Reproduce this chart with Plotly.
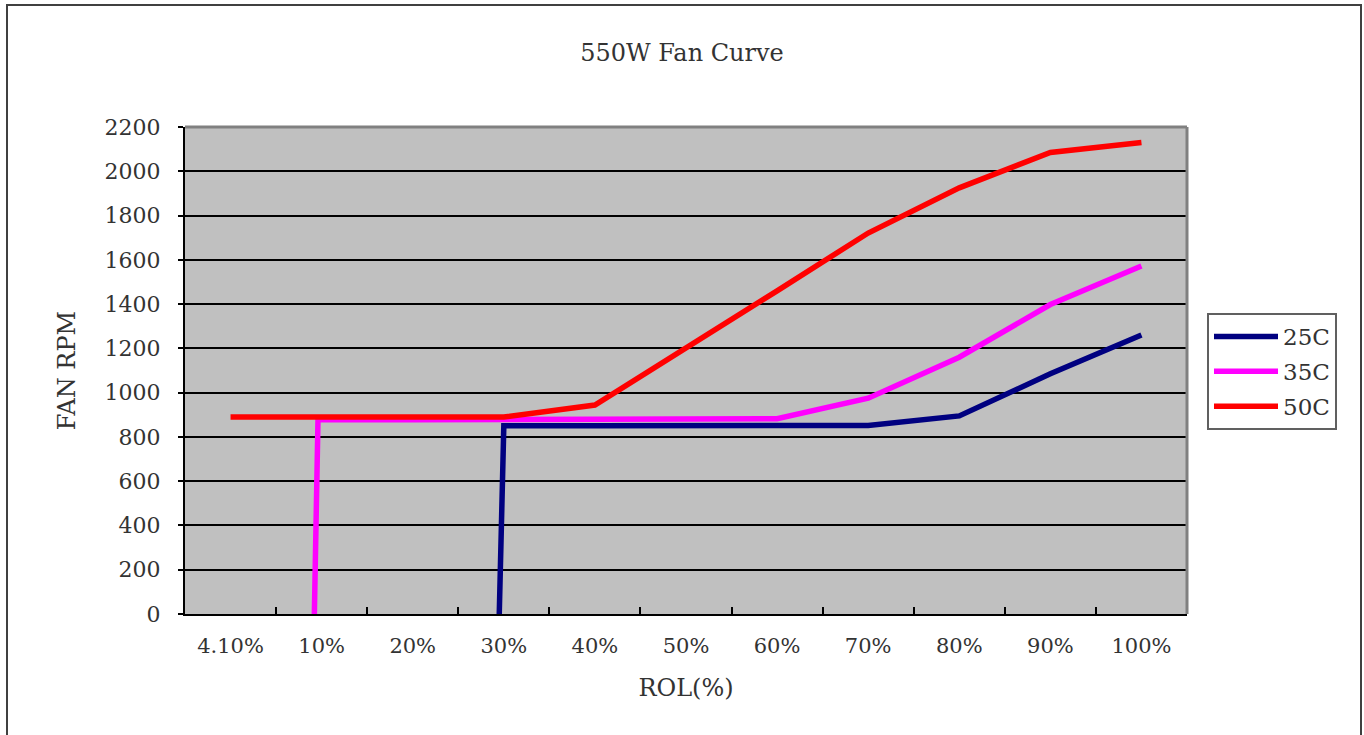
import plotly.graph_objects as go

# ---- data ----
load_labels = ["4.10%", "10%", "20%", "30%", "40%", "50%", "60%", "70%", "80%", "90%", "100%"]
label_pos = list(range(len(load_labels)))

load_pos_25c = [2.95, 3, 4, 5, 6, 7, 8, 9, 10]
rpm_25c = [0, 850, 850, 850, 850, 852, 895, 1085, 1260]

load_pos_35c = [0.92, 0.96, 2, 3, 4, 5, 6, 7, 8, 9, 10]
rpm_35c = [0, 878, 878, 878, 878, 878, 882, 975, 1160, 1398, 1572]

load_pos_50c = [0, 1, 2, 3, 4, 5, 6, 7, 8, 9, 10]
rpm_50c = [890, 890, 890, 890, 944, 1200, 1460, 1721, 1925, 2085, 2130]

series = [
    ("25C", load_pos_25c, rpm_25c, "#000080"),
    ("35C", load_pos_35c, rpm_35c, "#FF00FF"),
    ("50C", load_pos_50c, rpm_50c, "#FF0000"),
]

FONT = "DejaVu Serif"
TXT = "#333333"

fig = go.Figure()
for name, xs, ys, col in series:
    fig.add_trace(go.Scatter(
        x=xs, y=ys, name=name, mode="lines", legendgroup=name,
        line=dict(color=col, width=5.5),
    ))

W, H = 1364, 735
L, R, T, B = 185, 177, 127, 121
pw, ph = W - L - R, H - T - B

def px(xp):
    return (xp - L) / pw

def py(yp):
    return (H - B - yp) / ph

shapes = [
    dict(type="line", xref="paper", yref="paper", x0=0, x1=1, y0=1, y1=1,
         line=dict(color="#808080", width=3), layer="above"),
    dict(type="line", xref="paper", yref="paper", x0=1, x1=1, y0=0, y1=1,
         line=dict(color="#808080", width=3), layer="above"),
    dict(type="rect", xref="paper", yref="paper",
         x0=px(7), x1=px(1361), y0=py(745), y1=py(5),
         line=dict(color="#404040", width=2), fillcolor="rgba(0,0,0,0)"),
]

fig.update_layout(
    width=W, height=H,
    margin=dict(l=L, r=R, t=T, b=B, pad=0),
    paper_bgcolor="white",
    plot_bgcolor="#C0C0C0",
    font=dict(family=FONT, size=21, color=TXT),
    title=dict(text="550W Fan Curve", x=682 / W, xanchor="center",
               y=1 - 53 / H, yanchor="middle", yref="container",
               font=dict(family=FONT, size=24, color=TXT)),
    showlegend=True,
    legend=dict(
        x=px(1207), y=py(313), xanchor="left", yanchor="top",
        bgcolor="white", bordercolor="#606060", borderwidth=2,
        font=dict(family=FONT, size=23, color=TXT),
        tracegroupgap=2, itemwidth=64,
    ),
    shapes=shapes,
)

fig.update_xaxes(
    range=[-0.5, 10.5],
    tickmode="array", tickvals=label_pos, ticktext=load_labels,
    ticks="", ticklabelstandoff=12,
    tickfont=dict(family=FONT, size=21, color=TXT),
    showgrid=False, zeroline=False,
    showline=True, linecolor="black", linewidth=2,
    minor=dict(tickmode="array", tickvals=[p + 0.5 for p in label_pos[:-1]],
               ticks="inside", ticklen=7, tickcolor="black", tickwidth=1.5,
               showgrid=False),
    title=dict(text="ROL(%)", standoff=22, font=dict(family=FONT, size=24, color=TXT)),
    fixedrange=True,
)

fig.update_yaxes(
    range=[0, 2200], dtick=200, tick0=0,
    ticks="outside", ticklen=5, tickcolor="black", tickwidth=1.5,
    ticklabelstandoff=13,
    tickfont=dict(family=FONT, size=22, color=TXT),
    showgrid=True, gridcolor="black", gridwidth=1.5,
    zeroline=False,
    showline=True, linecolor="black", linewidth=2,
    title=dict(text="FAN RPM", standoff=22, font=dict(family=FONT, size=24, color=TXT)),
    fixedrange=True,
)

fig.write_html("out.html", config={"displayModeBar": False},
               post_script="document.body.style.margin='0';")
